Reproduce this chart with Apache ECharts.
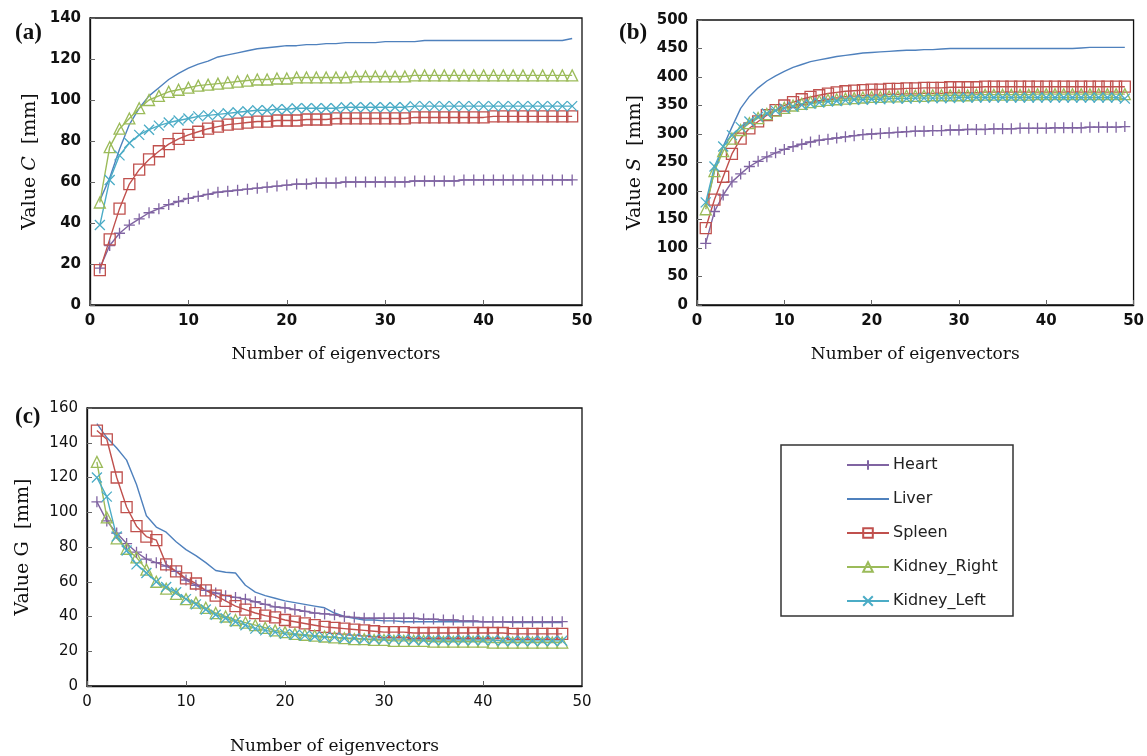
<!DOCTYPE html>
<html>
<head>
<meta charset="utf-8">
<script src="https://cdn.jsdelivr.net/npm/echarts@6/dist/echarts.min.js"></script>
<style>
  html, body { margin: 0; padding: 0; background: #fff; }
  #main { width: 1147px; height: 756px; }
</style>
</head>
<body>
<div id="main"></div>
<script>
const organs = ['Heart', 'Liver', 'Spleen', 'Kidney_Right', 'Kidney_Left'];
const colors = ['#8064A2', '#4F81BD', '#C0504D', '#9BBB59', '#4BACC6'];

// (a) value C, x = 1..49
const heartA = [18, 29, 35, 39, 42, 45, 47, 49, 50.5, 52, 53, 54, 55, 55.5, 56, 56.5, 57, 57.5, 58, 58.5,
  59, 59, 59.5, 59.5, 59.5, 60, 60, 60, 60, 60, 60, 60, 60.5, 60.5, 60.5, 60.5, 60.5, 61, 61, 61,
  61, 61, 61, 61, 61, 61, 61, 61, 61];
const liverA = [51, 62, 76, 88, 96, 102, 106, 110, 113, 115.5, 117.5, 119, 121, 122, 123, 124, 125, 125.5, 126, 126.5,
  126.5, 127, 127, 127.5, 127.5, 128, 128, 128, 128, 128.5, 128.5, 128.5, 128.5, 129, 129, 129, 129, 129, 129, 129,
  129, 129, 129, 129, 129, 129, 129, 129, 130];
const spleenA = [17, 32, 47, 59, 66, 71, 75, 78.5, 81, 83, 84.5, 86, 87, 88, 88.5, 89, 89.5, 89.5, 90, 90,
  90, 90.5, 90.5, 90.5, 91, 91, 91, 91, 91, 91, 91, 91, 91.5, 91.5, 91.5, 91.5, 91.5, 91.5, 91.5, 91.5,
  92, 92, 92, 92, 92, 92, 92, 92, 92];
const kidneyRA = [50, 77, 86, 91, 96, 100, 102, 104, 105, 106, 107, 107.5, 108, 108.5, 109, 109.5, 110, 110, 110.5, 110.5,
  111, 111, 111, 111, 111, 111, 111.5, 111.5, 111.5, 111.5, 111.5, 111.5, 112, 112, 112, 112, 112, 112, 112, 112,
  112, 112, 112, 112, 112, 112, 112, 112, 112];
const kidneyLA = [39, 61, 73, 79, 83, 85.5, 87.5, 89, 90, 91, 92, 92.5, 93, 93.5, 94, 94.5, 95, 95, 95.5, 95.5,
  96, 96, 96, 96, 96, 96.5, 96.5, 96.5, 96.5, 96.5, 96.5, 96.5, 97, 97, 97, 97, 97, 97, 97, 97,
  97, 97, 97, 97, 97, 97, 97, 97, 97];

// (b) value S, x = 1..49
const heartB = [108, 164, 193, 216, 230, 243, 252, 260, 267, 273, 278, 282, 286, 289, 291, 293, 295, 297, 299, 300,
  301, 302, 303, 304, 305, 305, 306, 306, 307, 307, 308, 308, 308, 309, 309, 309, 310, 310, 310, 310,
  311, 311, 311, 311, 312, 312, 312, 312, 313];
const liverB = [172, 235, 278, 312, 345, 366, 381, 393, 402, 410, 417, 422, 427, 430, 433, 436, 438, 440, 442, 443,
  444, 445, 446, 447, 447, 448, 448, 449, 450, 450, 450, 450, 450, 450, 450, 450, 450, 450, 450, 450,
  450, 450, 450, 451, 452, 452, 452, 452, 452];
const spleenB = [135, 185, 225, 265, 292, 310, 322, 333, 342, 350, 356, 361, 365, 368, 371, 373, 375, 376, 377, 378,
  378, 379, 379, 380, 380, 381, 381, 381, 382, 382, 382, 382, 383, 383, 383, 383, 383, 383, 383, 383,
  383, 383, 383, 383, 383, 383, 383, 383, 383];
const kidneyRB = [168, 235, 270, 292, 307, 319, 328, 335, 341, 346, 350, 353, 356, 358, 360, 361, 362, 363, 364, 365,
  365, 366, 366, 367, 367, 367, 368, 368, 368, 368, 368, 369, 369, 369, 369, 369, 369, 369, 370, 370,
  370, 370, 370, 370, 370, 370, 370, 370, 370];
const kidneyLB = [180, 243, 278, 298, 312, 322, 330, 336, 341, 345, 348, 351, 353, 355, 357, 358, 359, 360, 360, 361,
  361, 362, 362, 362, 363, 363, 363, 363, 363, 364, 364, 364, 364, 364, 364, 364, 364, 364, 364, 364,
  364, 364, 364, 364, 364, 364, 364, 364, 362];

// (c) value G, x = 1..48
const heartC = [106, 95, 88, 82, 77, 73, 71, 69, 66, 61, 58, 55, 53.5, 52, 51, 50, 48.5, 47, 45.5, 45,
  44, 43, 42, 41.5, 41, 40, 39.5, 39, 39, 39, 39, 39, 39, 38.5, 38.5, 38, 38, 37.5, 37.5, 37,
  37, 37, 37, 37, 37, 37, 37, 37];
const liverC = [151, 143, 137, 130, 116, 98, 91.5, 88.5, 83, 78.5, 75, 71, 66.5, 65.5, 65, 58, 54, 52, 50.5, 49,
  48, 47, 46, 45, 42, 40, 39, 38, 38, 37.5, 37.5, 37, 37, 37, 37, 37, 37, 37, 37, 37,
  37, 37, 36.5, 36.5, 36.5, 36.5, 36.5, 36.5];
const spleenC = [147, 142, 120, 103, 92, 86, 84, 70, 66, 62, 59, 55, 52, 49, 46, 44, 42, 40.5, 39.5, 38,
  37, 36, 35, 34, 33.5, 33, 32.5, 32, 31.5, 31, 31, 31, 30.5, 30.5, 30.5, 30.5, 30.5, 30.5, 30.5, 30.5,
  30.5, 30.5, 30, 30, 30, 30, 30, 30];
const kidneyRC = [129, 97, 85, 79, 74, 67, 60, 56, 53, 50, 48, 45, 42, 40, 38, 36.5, 35, 33.5, 32, 31,
  30, 29.5, 29, 28.5, 28, 27.5, 27, 27, 26.5, 26.5, 26, 26, 26, 26, 25.5, 25.5, 25.5, 25.5, 25.5, 25.5,
  25, 25, 25, 25, 25, 25, 25, 25];
const kidneyLC = [120, 109, 86, 78, 70, 65, 60, 57, 54, 50, 47, 44, 41, 39, 37, 35, 33, 32, 31, 30,
  29.5, 29, 28.5, 28, 28, 27.5, 27.5, 27, 27, 27, 27, 27, 26.5, 26.5, 26.5, 26.5, 26.5, 26.5, 26.5, 26.5,
  26.5, 26, 26, 26, 26, 26, 26, 26];

const panels = [
  { label: '(a)', sym: 'C', italic: true, yMax: 140, yStep: 20, data: [heartA, liverA, spleenA, kidneyRA, kidneyLA] },
  { label: '(b)', sym: 'S', italic: true, yMax: 500, yStep: 50, data: [heartB, liverB, spleenB, kidneyRB, kidneyLB] },
  { label: '(c)', sym: 'G', italic: false, yMax: 160, yStep: 20, data: [heartC, liverC, spleenC, kidneyRC, kidneyLC] },
];

const symbols = [
  'path://M5,0 L5,10 M0,5 L10,5',
  'none',
  'rect',
  'triangle',
  'path://M0,0 L10,10 M10,0 L0,10',
];
const symbolSizes = [11, 0, 11, 11, 10];

const grids = [
  { left: 90, top: 18, width: 492, height: 287 },
  { left: 697, top: 20, width: 439, height: 285 },
  { left: 87, top: 408, width: 495, height: 285 },
];
const nameGapsY = [50, 52, 54];
const nameGapsX = [41, 41, 52];
const tickWeights = ['bold', 'bold', 'normal'];

const serif = 'DejaVu Serif';
const sans = 'DejaVu Sans';

const option = {
  animation: false,
  backgroundColor: '#fff',
  title: [
    { text: '(a)', left: 10, top: 17 },
    { text: '(b)', left: 614, top: 17 },
    { text: '(c)', left: 10, top: 401 },
  ].map(t => ({ ...t, textStyle: { fontFamily: 'Liberation Serif', fontWeight: 'bold', fontSize: 23, color: '#111' } })),
  legend: {
    orient: 'vertical',
    left: 841,
    top: 452,
    itemWidth: 42,
    itemHeight: 12,
    itemGap: 18,
    data: organs.map((o, i) => (i === 1
      ? { name: o, itemStyle: { color: 'rgba(0,0,0,0)', borderColor: 'rgba(0,0,0,0)' } }
      : { name: o })),
    textStyle: { fontFamily: sans, fontSize: 16, color: '#222', padding: [0, 0, 0, -1] },
  },
  graphic: [
    {
      type: 'rect',
      shape: { x: 781, y: 445, width: 232, height: 171 },
      style: { fill: 'none', stroke: '#333', lineWidth: 1.5 },
    },
  ],
  grid: grids.map(g => ({ ...g, show: true, borderColor: '#111', borderWidth: 1.3, backgroundColor: '#fff' })),
  xAxis: panels.map((p, i) => ({
    gridIndex: i,
    type: 'value',
    min: 0,
    max: 50,
    interval: 10,
    name: 'Number of eigenvectors',
    nameLocation: 'middle',
    nameGap: nameGapsX[i],
    nameTextStyle: { fontFamily: serif, fontSize: 17, color: '#111' },
    axisLine: { lineStyle: { color: '#111', width: 1.3 } },
    axisTick: { inside: true, length: 5, lineStyle: { color: '#666' } },
    axisLabel: { fontFamily: sans, fontWeight: tickWeights[i], fontSize: 15, color: '#111', margin: 9 },
    splitLine: { show: false },
  })),
  yAxis: panels.map((p, i) => ({
    gridIndex: i,
    type: 'value',
    min: 0,
    max: p.yMax,
    interval: p.yStep,
    name: '{n|Value }{' + (p.italic ? 'i' : 'n') + '|' + p.sym + '}{n|  [mm]}',
    nameLocation: 'middle',
    nameRotate: 90,
    nameGap: nameGapsY[i],
    nameTextStyle: {
      rich: {
        n: { fontFamily: serif, fontSize: 19, color: '#111' },
        i: { fontFamily: serif, fontSize: 19, fontStyle: 'italic', color: '#111' },
      },
    },
    axisLine: { lineStyle: { color: '#111', width: 1.3 } },
    axisTick: { inside: true, length: 5, lineStyle: { color: '#666' } },
    axisLabel: { fontFamily: sans, fontWeight: tickWeights[i], fontSize: 15, color: '#111', margin: 9 },
    splitLine: { show: false },
  })),
  series: [],
};

panels.forEach((p, pi) => {
  p.data.forEach((vals, si) => {
    option.series.push({
      name: organs[si],
      type: 'line',
      xAxisIndex: pi,
      yAxisIndex: pi,
      data: vals.map((v, k) => [k + 1, v]),
      symbol: symbols[si],
      symbolSize: symbolSizes[si],
      showSymbol: si !== 1,
      z: si === 1 ? 1 : 2,
      lineStyle: { color: colors[si], width: 1.4 },
      itemStyle: { color: 'rgba(255,255,255,0)', borderColor: colors[si], borderWidth: 1.3 },
      emphasis: { disabled: true },
    });
  });
});

const chart = echarts.init(document.getElementById('main'));
chart.setOption(option);
</script>
</body>
</html>
